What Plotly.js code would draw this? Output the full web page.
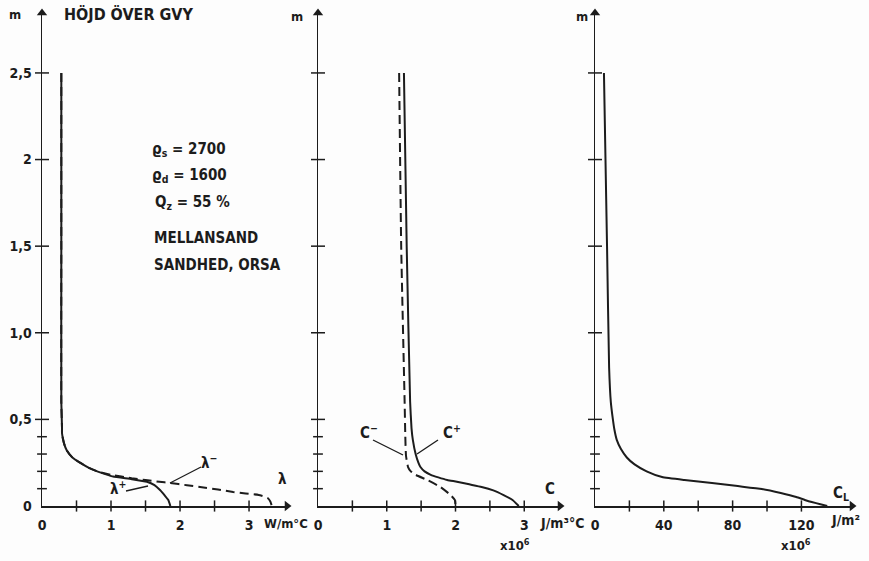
<!DOCTYPE html>
<html><head><meta charset="utf-8">
<script src="https://cdn.plot.ly/plotly-3.0.1.min.js"></script>
<style>html,body{margin:0;padding:0;background:#fdfdfd}#c{width:869px;height:561px}</style>
</head><body><div id="c"></div>
<script>
// ---- data ----
// Left panel: thermal conductivity λ (W/m°C) vs height above groundwater (m)
const lamPlusH  = [2.5, 1.5, 0.6, 0.45, 0.42, 0.36, 0.32, 0.28, 0.25, 0.22, 0.2, 0.18, 0.17, 0.155, 0.14, 0.12, 0.092, 0.06, 0.035, 0];
const lamPlusV  = [0.28, 0.28, 0.28, 0.29, 0.29, 0.32, 0.36, 0.44, 0.55, 0.68, 0.8, 0.95, 1.03, 1.3, 1.52, 1.63, 1.71, 1.78, 1.83, 1.86];
const lamMinusH = [2.5, 1.5, 0.6, 0.45, 0.42, 0.36, 0.32, 0.28, 0.25, 0.22, 0.2, 0.18, 0.16, 0.15, 0.14, 0.133, 0.12, 0.11, 0.095, 0.081, 0.072, 0.064, 0.055, 0.046, 0.025, 0];
const lamMinusV = [0.28, 0.28, 0.28, 0.29, 0.29, 0.32, 0.36, 0.44, 0.55, 0.68, 0.8, 1.0, 1.3, 1.5, 1.7, 1.85, 2.1, 2.29, 2.55, 2.77, 2.95, 3.14, 3.22, 3.27, 3.31, 3.33];
// Middle panel: volumetric heat capacity C (x10^6 J/m3°C)
const cPlusH  = [2.5, 1.5, 0.6, 0.45, 0.38, 0.3, 0.25, 0.225, 0.2, 0.18, 0.165, 0.15, 0.14, 0.125, 0.11, 0.09, 0.063, 0.035, 0];
const cPlusV  = [1.25, 1.29, 1.34, 1.36, 1.38, 1.42, 1.46, 1.49, 1.55, 1.64, 1.75, 1.88, 2.02, 2.2, 2.38, 2.55, 2.7, 2.83, 2.92];
const cMinusH = [2.5, 1.5, 0.6, 0.4, 0.29, 0.225, 0.2, 0.18, 0.15, 0.11, 0.063, 0.035, 0];
const cMinusV = [1.18, 1.21, 1.26, 1.27, 1.28, 1.31, 1.35, 1.42, 1.59, 1.78, 1.93, 1.99, 2.0];
// Right panel: latent heat C_L (x10^6 J/m3)
const cLH = [2.5, 1.5, 0.8, 0.6, 0.5, 0.44, 0.38, 0.33, 0.28, 0.24, 0.2, 0.167, 0.15, 0.133, 0.115, 0.098, 0.075, 0.052, 0.035, 0.023, 0.01, 0];
const cLV = [5.2, 7, 8.2, 9.2, 10.4, 11.3, 12.7, 15, 18.5, 23, 30, 39, 52, 68, 83, 97, 108, 117, 122, 126, 131, 135];
// ticks
const yTickVals = [0, 0.5, 1.0, 1.5, 2.0, 2.5];
const yTickText = ['0', '0,5', '1,0', '1,5', '2', '2,5'];
const yMinorTicks = [0.1, 0.2, 0.3, 0.4];
const xTicks1 = [0.5, 1, 1.5, 2, 2.5, 3];
const xLab1Vals = [0, 1, 2, 3], xLab1Text = ['0', '1', '2', '3'];
const xTicks2 = [0.5, 1, 1.5, 2, 2.5, 3];
const xLab2Vals = [0, 1, 2, 3], xLab2Text = ['0', '1', '2', '3'];
const xTicks3 = [20, 40, 60, 80, 100, 120];
const xLab3Vals = [0, 40, 80, 120], xLab3Text = ['0', '40', '80', '120'];
// axis extents (where the arrowheads sit)
const xMax = [3.55, 3.52, 149.4];
const yMax = 2.846;

// ---- layout helpers ----
const W = 869, H = 561;
const px = x => x / W, py = y => 1 - y / H;
const FONT = 'DejaVu Sans Condensed, DejaVu Sans, sans-serif';
const INK = '#1c1c1c';
const F = (size) => ({family: FONT, size, color: INK, weight: 'bold'});
const yDom = [py(506), py(13)];

const traces = [];
const ax = ['', '2', '3'];
const xt = [xTicks1, xTicks2, xTicks3];
const curve = (x, y, i, dash) => ({
  x, y, xaxis: 'x' + ax[i], yaxis: 'y' + ax[i], mode: 'lines', type: 'scatter',
  line: {color: INK, width: 2, dash: dash ? '9px,5px' : 'solid', shape: 'spline', smoothing: 0.4},
  hoverinfo: 'skip', showlegend: false
});
traces.push(curve(lamMinusV, lamMinusH, 0, true));
traces.push(curve(lamPlusV, lamPlusH, 0, false));
traces.push(curve(cMinusV, cMinusH, 1, true));
traces.push(curve(cPlusV, cPlusH, 1, false));
traces.push(curve(cLV, cLH, 2, false));
// tick marks crossing the axes, and arrowheads at the axis ends
const mk = (sym, size) => ({symbol: sym, size, color: INK, line: {color: INK, width: 1.5}});
const pts = (x, y, i, marker) => ({x, y, xaxis: 'x' + ax[i], yaxis: 'y' + ax[i], mode: 'markers', type: 'scatter',
  marker, cliponaxis: false, hoverinfo: 'skip', showlegend: false});
for (let i = 0; i < 3; i++) {
  traces.push(pts(xt[i], xt[i].map(() => 0), i, mk('line-ns-open', 8)));
  const major = yTickVals.slice(1);
  traces.push(pts(major.map(() => 0), major, i, mk('line-ew-open', 10)));
  traces.push(pts(yMinorTicks.map(() => 0), yMinorTicks, i, mk('line-ew-open', 7)));
  traces.push(pts([xMax[i]], [0], i, {symbol: 'triangle-right', size: 9, color: INK, line: {width: 0}}));
  traces.push(pts([0], [yMax], i, {symbol: 'triangle-up', size: 9, color: INK, line: {width: 0}}));
}

const xAxisBase = (dom, range, vals, text, anchor) => ({
  domain: dom, range, anchor, showgrid: false, zeroline: false, showline: true, linecolor: INK, linewidth: 1.5,
  ticks: '', tickmode: 'array', tickvals: vals, ticktext: text, ticklabelstandoff: 6,
  tickfont: F(14), fixedrange: true
});
const yAxisBase = (anchor, labels) => ({
  domain: yDom, range: [0, yMax], anchor, showgrid: false, zeroline: false, showline: true, linecolor: INK, linewidth: 1.5,
  ticks: '', tickmode: 'array', tickvals: yTickVals, ticktext: yTickText, showticklabels: labels, ticklabelstandoff: 6,
  tickfont: F(14), fixedrange: true
});

const ann = (text, x, y, opts = {}) => Object.assign({
  text, x: px(x), y: py(y), xref: 'paper', yref: 'paper', showarrow: false,
  font: F(15), xanchor: 'center', yanchor: 'middle'
}, opts);

const annotations = [
  ann('m', 15, 15, {font: F(13)}),
  ann('HÖJD ÖVER GVY', 62, 15, {xanchor: 'left', font: F(16)}),
  ann('m', 297, 17, {font: F(13)}),
  ann('m', 582, 17, {font: F(13)}),
  ann('ϱ<sub>s</sub> = 2700', 150, 150, {xanchor: 'left'}),
  ann('ϱ<sub>d</sub> = 1600', 150, 175, {xanchor: 'left'}),
  ann('Q<sub>z</sub> = 55 %', 153, 203, {xanchor: 'left'}),
  ann('MELLANSAND', 152, 238, {xanchor: 'left'}),
  ann('SANDHED, ORSA', 152, 265, {xanchor: 'left'}),
  ann('λ<sup>−</sup>', 209, 462),
  ann('λ<sup>+</sup>', 118, 488),
  ann('λ', 282, 479),
  ann('W/m°C', 262, 523, {font: F(13), xanchor: 'left'}),
  ann('C<sup>−</sup>', 369, 432),
  ann('C<sup>+</sup>', 452, 432),
  ann('C', 550, 489),
  ann('J/m³°C', 562, 523, {font: F(14)}),
  ann('x10<sup>6</sup>', 515, 545, {font: F(13)}),
  ann('C<sub>L</sub>', 841, 493),
  ann('J/m²', 829, 520, {xanchor: 'left', font: F(14)}),
  ann('x10<sup>6</sup>', 796, 545, {font: F(13)})
];
const seg = (x0, y0, x1, y1) => ({type: 'line', xref: 'paper', yref: 'paper', x0: px(x0), y0: py(y0), x1: px(x1), y1: py(y1),
  line: {color: INK, width: 1.3}});
const shapes = [
  seg(170, 483, 201, 467),
  seg(126, 491, 148, 486),
  seg(373, 440, 403, 455),
  seg(438, 440, 417, 454)
];

const layout = {
  width: W, height: H, margin: {l: 0, r: 0, t: 0, b: 0},
  paper_bgcolor: '#fdfdfd', plot_bgcolor: 'rgba(0,0,0,0)', showlegend: false,
  xaxis:  xAxisBase([px(42), px(287)], [0, xMax[0]], xLab1Vals, xLab1Text, 'y'),
  yaxis:  yAxisBase('x', true),
  xaxis2: xAxisBase([px(318), px(560)], [0, xMax[1]], xLab2Vals, xLab2Text, 'y2'),
  yaxis2: yAxisBase('x2', false),
  xaxis3: xAxisBase([px(595), px(852)], [0, xMax[2]], xLab3Vals, xLab3Text, 'y3'),
  yaxis3: yAxisBase('x3', false),
  annotations, shapes
};
Plotly.newPlot('c', traces, layout, {staticPlot: true, displayModeBar: false});
</script></body></html>
